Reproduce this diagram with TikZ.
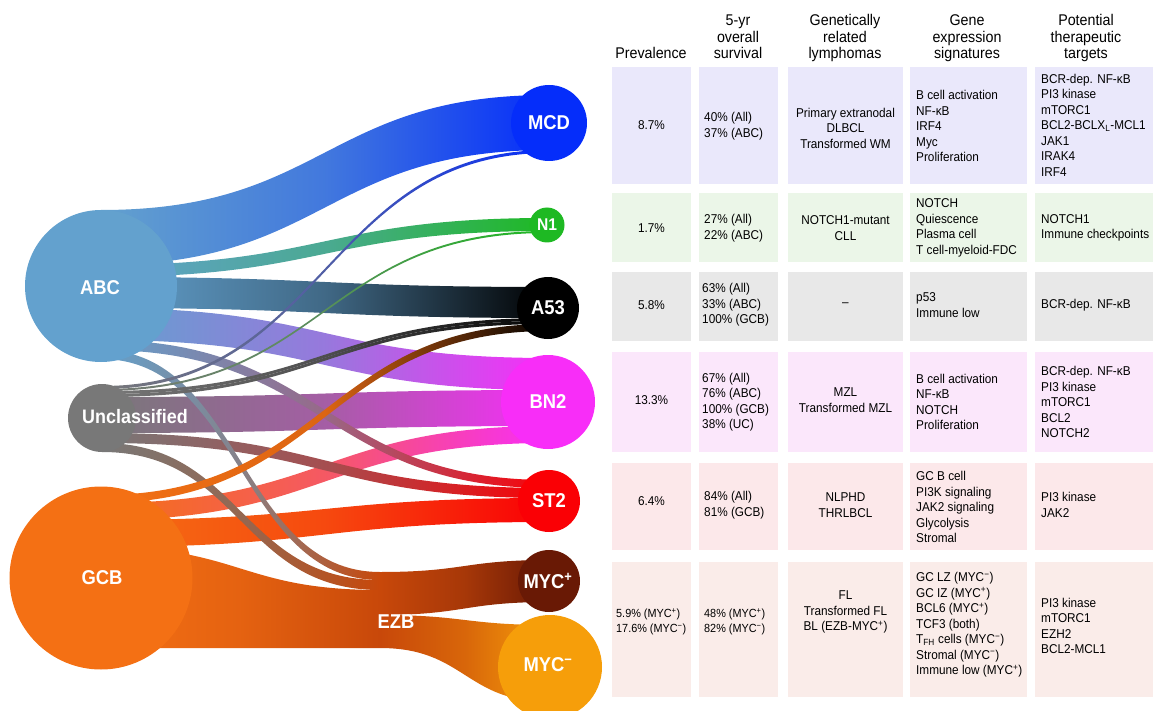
\documentclass[tikz,border=0pt]{standalone}
\usepackage{fontspec}
\setmainfont{Liberation Sans}[FakeStretch=0.92]
\definecolor{cABC}{RGB}{99,161,206}
\definecolor{cMCD}{RGB}{5,45,250}
\definecolor{cN1}{RGB}{30,185,35}
\definecolor{cA53}{RGB}{0,0,0}
\definecolor{cBN2}{RGB}{248,45,248}
\definecolor{cST2}{RGB}{250,0,5}
\definecolor{cUC}{RGB}{120,120,120}
\definecolor{cGCB}{RGB}{244,112,20}
\definecolor{cEZB}{RGB}{200,72,10}
\definecolor{cMYCp}{RGB}{105,25,5}
\definecolor{cMYCm}{RGB}{246,158,10}
\definecolor{rMCD}{RGB}{234,232,251}
\definecolor{rN1}{RGB}{235,246,232}
\definecolor{rA53}{RGB}{232,232,232}
\definecolor{rBN2}{RGB}{251,231,251}
\definecolor{rST2}{RGB}{252,232,234}
\definecolor{rEZB}{RGB}{250,236,233}
% flow band: x1, y1top, y1bot, x2, y2top, y2bot, colour A, colour B
\newcommand\flowband[8]{%
  \shade[left color=#7, right color=#8, middle color=#7!65!#8]
    (#1,#2) .. controls ({(#1+#4)/2},#2) and ({(#1+#4)/2},#5) .. (#4,#5)
    -- (#4,#6) .. controls ({(#1+#4)/2},#6) and ({(#1+#4)/2},#3) .. (#1,#3) -- cycle;}
\newcommand\rowbg[3]{%
  \fill[#3] (612,#1) rectangle (691,#2);
  \fill[#3] (699,#1) rectangle (778,#2);
  \fill[#3] (788,#1) rectangle (903,#2);
  \fill[#3] (910,#1) rectangle (1027,#2);
  \fill[#3] (1035,#1) rectangle (1153,#2);}
\begin{document}
\begin{tikzpicture}[x=1pt,y=-1pt,
  blob/.style={circle, inner sep=0pt, draw=none},
  lbl/.style={inner sep=0pt, text=white, font=\bfseries\fontsize{20}{22}\selectfont},
  hdr/.style={anchor=south, align=center, inner sep=0pt, font=\fontsize{15.5}{16.5}\selectfont},
  cellc/.style={align=center, inner sep=0pt, font=\fontsize{12.8}{15.5}\selectfont},
  celll/.style={anchor=west, align=left, inner sep=0pt, font=\fontsize{12.8}{15.5}\selectfont},
  cellsmall/.style={anchor=west, align=left, inner sep=0pt, font=\fontsize{11.8}{15}\selectfont}]
\useasboundingbox (0,0) rectangle (1153,711);

% ---------- flows ----------
% GCB -> EZB and EZB -> MYC
\flowband{101}{547}{648}{380}{590}{648}{cGCB}{cEZB}
\flowband{380}{615}{648}{550}{625}{702}{cEZB}{cMYCm}
\flowband{380}{572}{615}{549}{560}{602}{cEZB}{cMYCp}
% ABC main flows
\flowband{101}{210}{265}{549}{95}{150}{cABC}{cMCD}
\flowband{101}{265}{277}{547}{218}{231}{cABC}{cN1}
\flowband{101}{277}{308}{549}{287}{318}{cABC}{cA53}
\flowband{101}{308}{340}{549}{358}{390}{cABC}{cBN2}
% Unclassified -> BN2
\flowband{102}{397}{433}{549}{390}{426}{cUC}{cBN2}
% GCB -> ST2, BN2
\flowband{101}{520}{547}{549}{498}{522}{cGCB}{cST2}
\flowband{101}{503}{520}{549}{426}{443}{cGCB}{cBN2}
% Unclassified -> ST2, ABC -> ST2
\flowband{102}{433}{443}{549}{488}{498}{cUC}{cST2}
\flowband{101}{340}{350}{549}{480}{488}{cABC}{cST2}
% -> EZB
\flowband{102}{443}{452}{380}{580}{590}{cUC}{cEZB}
\flowband{101}{350}{359}{380}{572}{580}{cABC}{cEZB}
% GCB -> A53 (stays orange most of the way)
\shade[left color=cGCB, right color=cA53, middle color=cGCB!90!black]
  (101,495) .. controls (325,495) and (325,324) .. (549,324)
  -- (549,331) .. controls (325,331) and (325,503) .. (101,503) -- cycle;
% Unclassified thin flows
\flowband{102}{386}{389}{549}{150}{153}{cUC}{cMCD}
\flowband{102}{389}{391}{547}{231}{233}{cUC}{cN1}
\flowband{102}{391}{394}{549}{318}{321}{cUC}{cA53}
\flowband{102}{394}{397}{549}{321}{324}{cUC}{cA53}

% ---------- nodes ----------
\node[blob, fill=cABC, minimum size=152pt] (abc) at (101,286) {};
\node[blob, fill=cUC, minimum size=68pt] (uc) at (102,418) {};
\node[blob, fill=cGCB, minimum size=183pt] (gcb) at (101,578) {};
\node[blob, fill=cMCD, minimum size=76pt] (mcd) at (549,123) {};
\node[blob, fill=cN1, minimum size=35pt] (n1) at (547,225) {};
\node[blob, fill=cA53, minimum size=62pt] (a53) at (548,308) {};
\node[blob, fill=cBN2, minimum size=94pt] (bn2) at (548,402) {};
\node[blob, fill=cST2, minimum size=62pt] (st2) at (549,501) {};
\node[blob, fill=cMYCp, minimum size=62pt] (mycp) at (549,581) {};
\node[blob, fill=cMYCm, minimum size=104pt] (mycm) at (550,667) {};

\node[lbl] (abclbl) at (100,288) {ABC};
\node[lbl, font=\bfseries\fontsize{19.5}{22}\selectfont] (uclbl) at (135,417) {Unclassified};
\node[lbl] (gcblbl) at (102,578) {GCB};
\node[lbl] (ezblbl) at (396,622) {EZB};
\node[lbl] (mcdlbl) at (mcd) {MCD};
\node[lbl, font=\bfseries\fontsize{17}{20}\selectfont] (n1lbl) at (n1) {N1};
\node[lbl] (a53lbl) at (a53) {A53};
\node[lbl] (bn2lbl) at (bn2) {BN2};
\node[lbl] (st2lbl) at (st2) {ST2};
\node[lbl] (mycplbl) at (548,581) {MYC\textsuperscript{+}};
\node[lbl] (mycmlbl) at (548,665) {MYC\textsuperscript{−}};

% ---------- table headers ----------
\node[hdr] (hprev) at (651,64) {Prevalence\strut};
\node[hdr] (hsurv) at (738,64) {5-yr\\overall\\survival\strut};
\node[hdr] (hgen) at (845,64) {Genetically\\related\\lymphomas\strut};
\node[hdr] (hexp) at (967,64) {Gene\\expression\\signatures\strut};
\node[hdr] (htgt) at (1086,64) {Potential\\therapeutic\\targets\strut};

% ---------- table rows ----------
\rowbg{67}{184}{rMCD}
\rowbg{193}{262}{rN1}
\rowbg{272}{341}{rA53}
\rowbg{352}{452}{rBN2}
\rowbg{463}{550}{rST2}
\rowbg{562}{697}{rEZB}

% MCD
\node[cellc] (p1) at (651.5,125) {8.7\%};
\node[celll] (s1) at (704,126) {40\% (All)\\37\% (ABC)};
\node[cellc] (g1) at (845.5,128) {Primary extranodal\\DLBCL\\Transformed WM};
\node[celll] (e1) at (916,126) {B cell activation\\NF-κB\\IRF4\\Myc\\Proliferation};
\node[celll] (t1) at (1041,125) {BCR-dep. NF-κB\\PI3 kinase\\mTORC1\\BCL2-BCLX\textsubscript{L}-MCL1\\JAK1\\IRAK4\\IRF4};
% N1
\node[cellc] (p2) at (651.5,228) {1.7\%};
\node[celll] (s2) at (704,228) {27\% (All)\\22\% (ABC)};
\node[cellc] (g2) at (845.5,228) {NOTCH1-mutant\\CLL};
\node[celll] (e2) at (916,228) {NOTCH\\Quiescence\\Plasma cell\\T cell-myeloid-FDC};
\node[celll] (t2) at (1041,228) {NOTCH1\\Immune checkpoints};
% A53
\node[cellc] (p3) at (651.5,305) {5.8\%};
\node[celll] (s3) at (702,305) {63\% (All)\\33\% (ABC)\\100\% (GCB)};
\node[cellc] (g3) at (845.5,305) {–};
\node[celll] (e3) at (916,305) {p53\\Immune low};
\node[celll] (t3) at (1041,305) {BCR-dep. NF-κB};
% BN2
\node[cellc] (p4) at (651.5,400) {13.3\%};
\node[celll] (s4) at (702,402) {67\% (All)\\76\% (ABC)\\100\% (GCB)\\38\% (UC)};
\node[cellc] (g4) at (845.5,400) {MZL\\Transformed MZL};
\node[celll] (e4) at (916,402) {B cell activation\\NF-κB\\NOTCH\\Proliferation};
\node[celll] (t4) at (1041,402) {BCR-dep. NF-κB\\PI3 kinase\\mTORC1\\BCL2\\NOTCH2};
% ST2
\node[cellc] (p5) at (651.5,501) {6.4\%};
\node[celll] (s5) at (704,505) {84\% (All)\\81\% (GCB)};
\node[cellc] (g5) at (845.5,505) {NLPHD\\THRLBCL};
\node[celll] (e5) at (916,507) {GC B cell\\PI3K signaling\\JAK2 signaling\\Glycolysis\\Stromal};
\node[celll] (t5) at (1041,505) {PI3 kinase\\JAK2};
% EZB
\node[cellsmall] (p6) at (616,622) {5.9\% (MYC\textsuperscript{+})\\17.6\% (MYC\textsuperscript{−})};
\node[cellsmall] (s6) at (704,622) {48\% (MYC\textsuperscript{+})\\82\% (MYC\textsuperscript{−})};
\node[cellc] (g6) at (845.5,612) {FL\\Transformed FL\\BL (EZB-MYC\textsuperscript{+})};
\node[celll] (e6) at (916,625) {GC LZ (MYC\textsuperscript{−})\\GC IZ (MYC\textsuperscript{+})\\BCL6 (MYC\textsuperscript{+})\\TCF3 (both)\\T\textsubscript{FH} cells (MYC\textsuperscript{−})\\Stromal (MYC\textsuperscript{−})\\Immune low (MYC\textsuperscript{+})};
\node[celll] (t6) at (1041,626) {PI3 kinase\\mTORC1\\EZH2\\BCL2-MCL1};
\end{tikzpicture}
\end{document}
